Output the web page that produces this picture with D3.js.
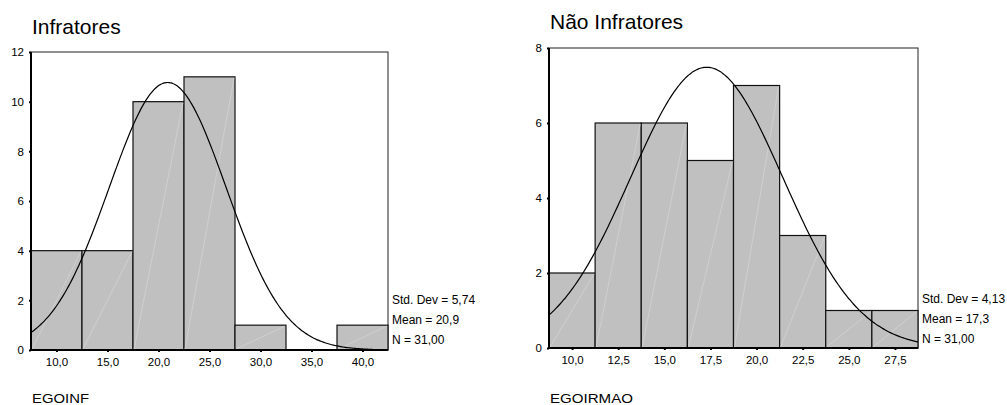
<!DOCTYPE html>
<html>
<head>
<meta charset="utf-8">
<script src="https://cdn.jsdelivr.net/npm/d3@7"></script>
<style>
  body { margin: 0; background: #fff; }
  svg { display: block; font-family: "Liberation Sans", Arial, sans-serif; }
</style>
</head>
<body>
<svg id="chart" width="1007" height="405"></svg>
<script>
// Infratores histogram (EGOINF)
var infBinStarts = [7.5, 12.5, 17.5, 22.5, 27.5, 32.5, 37.5];
var infCounts = [4, 4, 10, 11, 1, 0, 1];
var infTicks = [10, 15, 20, 25, 30, 35, 40];
var infStats = [5.74, 20.9, 31];   // std dev, mean, N
var infStatLabels = ['Std. Dev = 5,74', 'Mean = 20,9', 'N = 31,00'];

// Não Infratores histogram (EGOIRMAO)
var naoBinStarts = [8.75, 11.25, 13.75, 16.25, 18.75, 21.25, 23.75, 26.25];
var naoCounts = [2, 6, 6, 5, 7, 3, 1, 1];
var naoTicks = [10, 12.5, 15, 17.5, 20, 22.5, 25, 27.5];
var naoStats = [4.13, 17.3, 31];
var naoStatLabels = ['Std. Dev = 4,13', 'Mean = 17,3', 'N = 31,00'];

var svg = d3.select('#chart');
var fmt = function(v) { return d3.format('.1f')(v).replace('.', ','); };

function histogram(opt) {
  var g = svg.append('g');

  var x = d3.scaleLinear().domain(opt.xDomain).range([opt.left, opt.right]);
  var y = d3.scaleLinear().domain(opt.yDomain).range([opt.bottom, opt.top]);

  // Title
  g.append('text')
    .attr('x', opt.left + 1)
    .attr('y', opt.titleY)
    .attr('font-size', 21)
    .attr('fill', '#000')
    .text(opt.title);

  // Frame
  g.append('rect')
    .attr('x', opt.left)
    .attr('y', opt.top)
    .attr('width', opt.right - opt.left)
    .attr('height', opt.bottom - opt.top)
    .attr('fill', '#fff')
    .attr('stroke', '#222')
    .attr('stroke-width', 1);

  // Bars
  var bars = g.selectAll('.bar')
    .data(opt.starts.map(function(s, i) { return {x0: s, x1: s + opt.binWidth, n: opt.counts[i]}; })
      .filter(function(d) { return d.n > 0; }))
    .enter();

  bars.append('rect')
    .attr('x', function(d) { return x(d.x0); })
    .attr('y', function(d) { return y(d.n); })
    .attr('width', function(d) { return x(d.x1) - x(d.x0); })
    .attr('height', function(d) { return y(0) - y(d.n); })
    .attr('fill', '#c0c0c0')
    .attr('stroke', '#111')
    .attr('stroke-width', 1.2);

  // faint seam inside each bar
  bars.append('line')
    .attr('x1', function(d) { return x(d.x0) + 1; })
    .attr('y1', y(0) - 1)
    .attr('x2', function(d) { return x(d.x1) - 1; })
    .attr('y2', function(d) { return y(d.n) + 1; })
    .attr('stroke', '#d6d6d6')
    .attr('stroke-width', 0.7);

  // Normal curve from the stats
  var sd = opt.stats[0], mean = opt.stats[1], n = opt.stats[2];
  var scale = n * opt.binWidth / (sd * Math.sqrt(2 * Math.PI));
  var xs = d3.range(opt.curveDomain[0], opt.curveDomain[1] + 0.001, (opt.curveDomain[1] - opt.curveDomain[0]) / 200);
  var line = d3.line()
    .x(function(v) { return x(v); })
    .y(function(v) { return y(scale * Math.exp(-Math.pow(v - mean, 2) / (2 * sd * sd))); })
    .curve(d3.curveMonotoneX);
  g.append('path')
    .attr('d', line(xs))
    .attr('fill', 'none')
    .attr('stroke', '#000')
    .attr('stroke-width', 1.2);

  // Axes
  var yAxis = d3.axisLeft(y).tickValues(opt.yTicks).tickSize(2).tickPadding(5).tickFormat(d3.format('d'));
  var ya = g.append('g').attr('transform', 'translate(' + opt.left + ',0)').call(yAxis);
  var xAxis = d3.axisBottom(x).tickValues(opt.ticks).tickSize(2).tickPadding(6).tickFormat(fmt);
  var xa = g.append('g').attr('transform', 'translate(0,' + opt.bottom + ')').call(xAxis);
  [ya, xa].forEach(function(a) {
    a.select('.domain').attr('stroke', '#000').attr('stroke-width', 2);
    a.selectAll('.tick line').attr('stroke', '#000').attr('stroke-width', 2);
    a.selectAll('.tick text').attr('font-size', 11.5).attr('fill', '#000').attr('font-family', '"Liberation Sans", Arial, sans-serif');
  });
  xa.select('.domain').attr('d', 'M' + opt.left + ',0H' + opt.right);
  ya.select('.domain').attr('d', 'M0,' + opt.bottom + 'V' + opt.top);

  // Stats text
  g.selectAll('.stat')
    .data(opt.statLabels)
    .enter()
    .append('text')
    .attr('x', opt.right + 4)
    .attr('y', function(d, i) { return opt.statY + i * 20; })
    .attr('font-size', 12)
    .attr('fill', '#000')
    .text(function(d) { return d; });

  // Variable name
  g.append('text')
    .attr('x', opt.left + 1)
    .attr('y', 403)
    .attr('font-size', 13)
    .attr('fill', '#000')
    .attr('textLength', opt.nameWidth)
    .attr('lengthAdjust', 'spacingAndGlyphs')
    .text(opt.name);
}

histogram({
  title: 'Infratores', titleY: 34, name: 'EGOINF', nameWidth: 57,
  left: 31, right: 388, top: 52, bottom: 350,
  xDomain: [7.5, 42.5], yDomain: [0, 12], yTicks: [0, 2, 4, 6, 8, 10, 12],
  starts: infBinStarts, counts: infCounts, binWidth: 5, ticks: infTicks,
  stats: infStats, statLabels: infStatLabels, statY: 304,
  curveDomain: [7.5, 41]
});

histogram({
  title: 'Não Infratores', titleY: 29, name: 'EGOIRMAO', nameWidth: 83,
  left: 549, right: 918, top: 48, bottom: 348,
  xDomain: [8.75, 28.75], yDomain: [0, 8], yTicks: [0, 2, 4, 6, 8],
  starts: naoBinStarts, counts: naoCounts, binWidth: 2.5, ticks: naoTicks,
  stats: naoStats, statLabels: naoStatLabels, statY: 303,
  curveDomain: [8.75, 28.75]
});
</script>
</body>
</html>
